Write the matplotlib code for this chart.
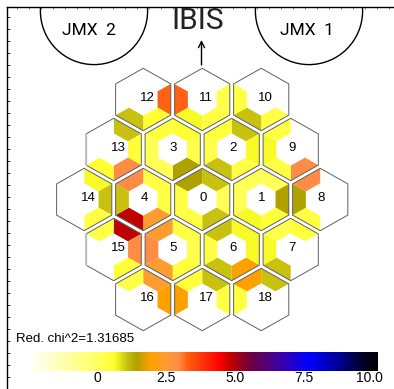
import numpy as np
from matplotlib import pyplot as plt
from matplotlib.collections import PolyCollection
from matplotlib.colors import LinearSegmentedColormap
from matplotlib.patches import Circle, Polygon

plt.rcParams['font.family'] = ['Liberation Sans', 'DejaVu Sans']

nan = np.nan

# chi values of each module, order of sectors: UR, R, LR, LL, L, UL
modules = {
    0:  [1.1, 0.2, 1.1, 0.4, 0.4, 1.45],
    1:  [0.2, 1.45, 0.5, 0.7, 0.2, 0.2],
    2:  [1.1, 0.7, 0.4, 1.1, 0.3, 0.5],
    3:  [0.6, 0.3, 1.45, 0.2, 0.2, 0.45],
    4:  [0.4, 0.4, 2.5, 4.9, 1.1, 3.0],
    5:  [0.4, 0.3, 0.5, 2.5, 3.0, 2.5],
    6:  [0.7, 0.7, 1.95, 1.1, 0.4, 1.1],
    7:  [0.5, nan, nan, 1.1, 0.7, 0.3],
    8:  [nan, nan, nan, 0.4, 1.45, 3.0],
    9:  [nan, nan, 3.0, 0.4, 0.7, 0.4],
    10: [nan, nan, 0.4, 1.1, 0.4, nan],
    11: [nan, 0.3, 0.4, 0.7, 3.3, nan],
    12: [nan, 3.3, 0.6, 1.1, nan, nan],
    13: [1.1, 0.5, 3.0, 0.6, nan, nan],
    14: [0.7, 1.1, 0.4, nan, nan, nan],
    15: [4.9, 3.0, 0.5, nan, nan, 0.4],
    16: [2.5, 1.95, nan, nan, nan, 0.4],
    17: [1.1, 0.4, nan, nan, 1.95, 0.5],
    18: [1.1, nan, nan, nan, 0.4, 1.95],
}

chi2_text = 'Red. chi^2=1.31685'
bar_ticks = [0, 2.5, 5.0, 7.5, 10.0]
bar_labels = ['0', '2.5', '5.0', '7.5', '10.0']
vmin, vmax = -2.5, 10.25

# colour table
stops = [(-2.5, '#ffffff'), (0.2, '#ffff55'), (0.6, '#ffff30'), (0.72, '#f5f825'),
         (1.1, '#c8c010'), (1.45, '#b0a000'), (1.95, '#ffa000'), (2.5, '#ff9c30'),
         (3.0, '#ff8c45'), (3.3, '#ff6010'), (4.5, '#ff0000'), (4.9, '#c00000'),
         (5.6, '#700040'), (6.6, '#4000a0'), (7.75, '#0000ff'), (8.9, '#000090'),
         (9.6, '#000030'), (10.25, '#000000')]
cmap = LinearSegmentedColormap.from_list(
    'ibis', [((v - vmin) / (vmax - vmin), c) for v, c in stops], N=512)
cmap.set_bad('white')

# module places on the hexagonal grid (half columns, rows)
grid = {0: (0, 0), 1: (2, 0), 2: (1, -1), 3: (-1, -1), 4: (-2, 0), 5: (-1, 1), 6: (1, 1),
        7: (3, 1), 8: (4, 0), 9: (3, -1), 10: (2, -2), 11: (0, -2), 12: (-2, -2),
        13: (-3, -1), 14: (-4, 0), 15: (-3, 1), 16: (-2, 2), 17: (0, 2), 18: (2, 2)}

x0, y0 = 202.2, 199.5
half_col, row = 29.5, 50.0
half_w, r_hex = 27.6, 31.2
inner = 0.52

angles = np.radians([-90, -30, 30, 90, 150, 210])
vx = np.cos(angles) * half_w / np.cos(np.radians(30))
vy = np.sin(angles) * r_hex

fig = plt.figure(figsize=(3.94, 3.89), dpi=100)
ax = fig.add_axes([6.5 / 394, 0, 1 - 6.5 / 394, 1 - 7 / 389])
ax.set_xlim(6.5, 394)
ax.set_ylim(389, 7)

# sectors
polys, vals = [], []
for m, sector in modules.items():
    cx = x0 + grid[m][0] * half_col
    cy = y0 + grid[m][1] * row
    for k in range(6):
        j = (k + 1) % 6
        polys.append([(cx + vx[k], cy + vy[k]), (cx + vx[j], cy + vy[j]),
                      (cx + inner * vx[j], cy + inner * vy[j]),
                      (cx + inner * vx[k], cy + inner * vy[k])])
        vals.append(sector[k])
coll = PolyCollection(polys, array=np.array(vals), cmap=cmap, edgecolors='none')
coll.set_clim(vmin, vmax)
ax.add_collection(coll)

# outlines and numbers
for m in modules:
    cx = x0 + grid[m][0] * half_col
    cy = y0 + grid[m][1] * row
    ax.add_patch(Polygon(np.column_stack([cx + vx, cy + vy]), closed=True, fill=False,
                         edgecolor='#606060', lw=0.7))
    if m in (13, 15):
        # these left edges come out pale in the original
        ax.plot(cx + vx[4:6], cy + vy[4:6], color='#c0c0c0', lw=1.0)
    ax.text(cx - 2.8, cy - 1.8, str(m), ha='left', va='center', fontsize=9.5, color='black')

# JEM-X fields and IBIS arrow
for xc, xt, name in [(94, 89, 'JMX  2'), (309, 307, 'JMX  1')]:
    ax.add_patch(Circle((xc, 11), 53.6, fill=False, edgecolor='black', lw=1.0))
    ax.text(xt, 30.5, name, ha='center', va='center', fontsize=12.5, color='black',
            family=['Roboto', 'DejaVu Sans'])
ax.text(198, 21, 'IBIS', ha='center', va='center', fontsize=21.5, color='#222222',
        family=['Roboto', 'DejaVu Sans'])
ax.annotate('', xy=(201.5, 40), xytext=(201.5, 65),
            arrowprops=dict(arrowstyle='->', color='black', lw=1.0, shrinkA=0, shrinkB=0,
                            mutation_scale=11))

# colour bar
ramp = np.linspace(vmin, vmax, 512).reshape(1, -1)
ax.imshow(ramp, cmap=cmap, vmin=vmin, vmax=vmax, extent=(28, 378, 371.5, 352.5),
          aspect='auto', interpolation='bilinear')
ax.set_xlim(6.5, 394)
ax.set_ylim(389, 7)
for v, lab in zip(bar_ticks, bar_labels):
    xt = 97.6 + 27.45 * v
    if lab == '10.0':
        xt -= 3
    ax.text(xt, 378.5, lab, ha='center', va='center', fontsize=10, color='black')
ax.text(16, 339, chi2_text, ha='left', va='center', fontsize=9.5, color='black')

# frame
for s in ['right', 'bottom']:
    ax.spines[s].set_visible(False)
for s in ['left', 'top']:
    ax.spines[s].set_linewidth(1.0)
ax.xaxis.tick_top()
ax.set_xticks(np.arange(16.5, 394, 12))
ax.set_yticks(np.arange(17, 389, 12))
ax.tick_params(axis='y', length=2.2, width=0.7, direction='in', labelleft=False, color='#333333')
ax.tick_params(axis='x', length=1.2, width=0.5, direction='in', labeltop=False, color='#555555')

fig.savefig('out.png', dpi=100)
